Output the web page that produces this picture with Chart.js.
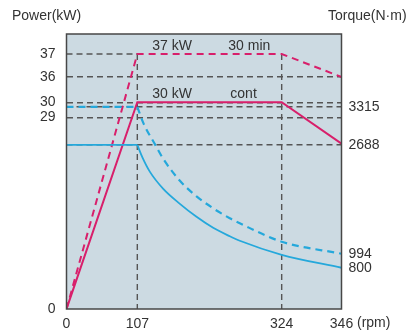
<!DOCTYPE html>
<html lang="en">
<head>
<meta charset="UTF-8">
<title>Spindle power / torque</title>
<script src="https://cdn.jsdelivr.net/npm/chart.js"></script>
<style>
    html, body { margin: 0; padding: 0; background: #ffffff; }
    .wrap { width: 408px; height: 335px; }
</style>
</head>
<body>
<div class="wrap"><canvas id="chart" width="408" height="335"></canvas></div>
<script>
// ---- data ----
const rpmTicks = [0, 107, 324, 346];
const powerTicks = [0, 29, 30, 36, 37];          // kW
const torqueTicks = [0, 800, 994, 2688, 3315];   // N·m

const power30minRpm = [0, 107, 324, 346];
const power30minKw = [0, 37, 37, 36];
const powerContRpm = [0, 107, 324, 346];
const powerContKw = [0, 30, 30, 25];

const torque30minRpm = [0, 107, 116, 134, 146, 171, 196, 221, 246, 261, 324, 346];
const torque30minNm = [3315, 3315, 3051, 2688, 2470, 2129, 1888, 1701, 1546, 1468, 1181, 994];
const torqueContRpm = [0, 107, 115, 126, 146, 171, 196, 221, 246, 261, 324, 346];
const torqueContNm = [2688, 2688, 2486, 2268, 2004, 1771, 1569, 1398, 1266, 1196, 980, 800];

// the drawing is schematic: where each tick sits along its axis (0..1)
const xTickPos = [0, 0.2575, 0.7825, 1];
const powerTickPos = [0, 0.6974, 0.7519, 0.8438, 0.9274];
const torqueTickPos = [0, 0.150, 0.2009, 0.5968, 0.7348];

const MAGENTA = '#d81f6b';
const CYAN = '#25a8db';
const GUIDE = '#555555';
const TEXT = '#333333';
const FONT = '"Liberation Sans", Arial, sans-serif';

function warp(v, knots, pos) {
    for (let i = 1; i < knots.length; i++) {
        if (v <= knots[i] || i === knots.length - 1) {
            const t = (v - knots[i - 1]) / (knots[i] - knots[i - 1]);
            return pos[i - 1] + t * (pos[i] - pos[i - 1]);
        }
    }
}
const wx = v => warp(v, rpmTicks, xTickPos);
const wp = v => warp(v, powerTicks, powerTickPos);
const wt = v => warp(v, torqueTicks, torqueTickPos);

function points(rpms, vals, wy, from, to) {
    return rpms.slice(from, to).map((r, i) => ({ x: wx(r), y: wy(vals[from + i]) }));
}

const n30 = torque30minRpm.length, nC = torqueContRpm.length;

const datasets = [
    { data: points(torque30minRpm, torque30minNm, wt, 0, 2), borderColor: CYAN, borderWidth: 2.2, borderDash: [7, 5] },
    { data: points(torque30minRpm, torque30minNm, wt, 1, n30), borderColor: CYAN, borderWidth: 2.2, borderDash: [7, 5], cubicInterpolationMode: 'monotone' },
    { data: points(torqueContRpm, torqueContNm, wt, 0, 2), borderColor: CYAN, borderWidth: 1.8 },
    { data: points(torqueContRpm, torqueContNm, wt, 1, nC), borderColor: CYAN, borderWidth: 1.8, cubicInterpolationMode: 'monotone' },
    { data: points(power30minRpm, power30minKw, wp, 0, 4), borderColor: MAGENTA, borderWidth: 2, borderDash: [7, 5] },
    { data: points(powerContRpm, powerContKw, wp, 0, 4), borderColor: MAGENTA, borderWidth: 2 }
];

const notes = [
    { text: '37 kW', rpm: 107, kw: 37, dx: 15, dy: -8 },
    { text: '30 min', rpm: 107, kw: 37, dx: 91, dy: -8 },
    { text: '30 kW', rpm: 107, kw: 30, dx: 15, dy: -8 },
    { text: 'cont', rpm: 107, kw: 30, dx: 93, dy: -8 }
];

const tickFont = { family: FONT, size: 14 };

const frame = {
    id: 'frame',
    beforeDraw(chart) {
        const { ctx, chartArea: a } = chart;
        ctx.save();
        ctx.fillStyle = '#ccdae2';
        ctx.fillRect(a.left, a.top, a.right - a.left, a.bottom - a.top);
        ctx.restore();
    },
    beforeDatasetsDraw(chart) {
        const { ctx, chartArea: a, scales } = chart;
        const y37 = scales.y.getPixelForValue(wp(37));
        ctx.save();
        ctx.strokeStyle = GUIDE;
        ctx.lineWidth = 1.4;
        ctx.setLineDash([6, 4]);
        [107, 324].forEach(r => {
            const x = scales.x.getPixelForValue(wx(r));
            ctx.beginPath();
            ctx.moveTo(x, y37);
            ctx.lineTo(x, a.bottom);
            ctx.stroke();
        });
        ctx.beginPath();
        ctx.moveTo(a.left, y37);
        ctx.lineTo(scales.x.getPixelForValue(wx(107)), y37);
        ctx.stroke();
        ctx.restore();
    },
    afterDraw(chart) {
        const { ctx, chartArea: a, scales } = chart;
        ctx.save();
        ctx.strokeStyle = '#474747';
        ctx.lineWidth = 1.5;
        ctx.strokeRect(a.left, a.top, a.right - a.left, a.bottom - a.top);

        ctx.fillStyle = TEXT;
        ctx.font = '14px ' + FONT;
        ctx.textBaseline = 'middle';
        ctx.textAlign = 'left';
        ctx.fillText('Power(kW)', 12, 16);
        ctx.fillText('Torque(N\u00b7m)', 328, 16);
        ctx.fillText('(rpm)', 357, 323);
        notes.forEach(n => {
            const x = scales.x.getPixelForValue(wx(n.rpm)) + n.dx;
            const y = scales.y.getPixelForValue(wp(n.kw)) + n.dy;
            ctx.fillText(n.text, x, y);
        });
        ctx.restore();
    }
};

new Chart(document.getElementById('chart').getContext('2d'), {
    type: 'line',
    data: { datasets: datasets.map(d => Object.assign({ pointRadius: 0, fill: false, tension: 0 }, d)) },
    plugins: [frame],
    options: {
        responsive: false,
        devicePixelRatio: 1,
        animation: false,
        layout: { padding: { top: 34, left: 0, right: 0, bottom: 0 } },
        plugins: { legend: { display: false }, tooltip: { enabled: false } },
        scales: {
            x: {
                type: 'linear', position: 'bottom', min: 0, max: 1,
                afterBuildTicks: s => { s.ticks = xTickPos.map(v => ({ value: v })); },
                afterFit: s => { s.height = 26; },
                ticks: { callback: (v, i) => rpmTicks[i], autoSkip: false, maxRotation: 0, padding: 7, color: TEXT, font: tickFont },
                grid: { display: false, drawTicks: false },
                border: { display: false }
            },
            y: {
                type: 'linear', position: 'left', min: 0, max: 1,
                afterBuildTicks: s => { s.ticks = powerTickPos.map(v => ({ value: v })); },
                afterFit: s => { s.width = 66.5; },
                ticks: { callback: (v, i) => powerTicks[i], autoSkip: false, padding: 11, color: TEXT, font: tickFont },
                grid: {
                    drawTicks: false, lineWidth: 1.4,
                    color: c => (c.index === 0 || c.index === 4) ? 'rgba(0,0,0,0)' : GUIDE
                },
                border: { display: false, dash: [6, 4] }
            },
            y2: {
                type: 'linear', position: 'right', min: 0, max: 1,
                afterBuildTicks: s => { s.ticks = torqueTickPos.map(v => ({ value: v })); },
                afterFit: s => { s.width = 66.5; },
                ticks: { callback: (v, i) => i === 0 ? '' : torqueTicks[i], autoSkip: false, padding: 7, color: TEXT, font: tickFont },
                grid: {
                    drawTicks: false, lineWidth: 1.4,
                    color: c => (c.index >= 3) ? GUIDE : 'rgba(0,0,0,0)'
                },
                border: { display: false, dash: [6, 4] }
            }
        }
    }
});
</script>
</body>
</html>
